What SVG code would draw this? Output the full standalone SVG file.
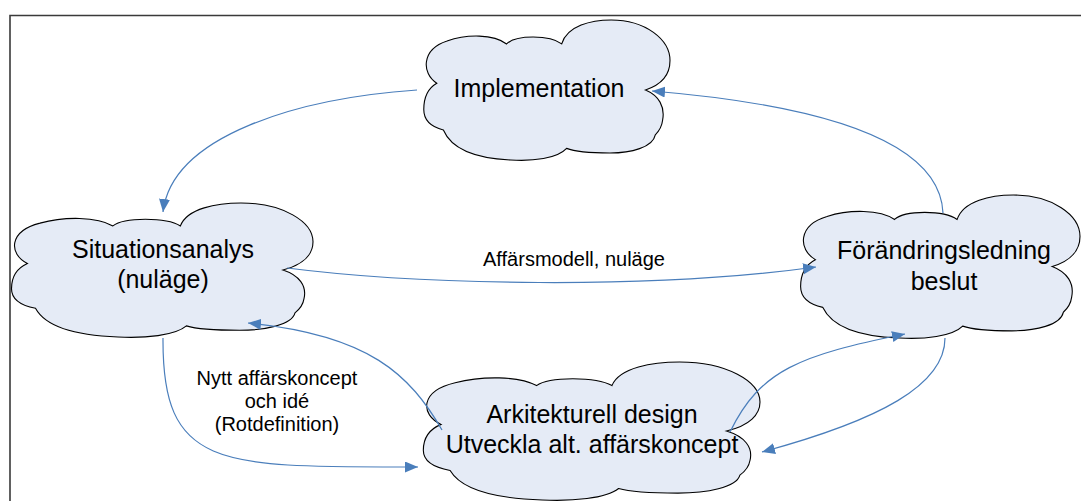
<svg xmlns="http://www.w3.org/2000/svg" width="1081" height="501" viewBox="0 0 1081 501">
<style>
.cloud{fill:#E5EBF6;stroke:#000;stroke-width:1.1}
.big{font-family:"Liberation Sans",Arial,sans-serif;font-size:25px;fill:#000;text-anchor:middle}
.lbl{font-family:"Liberation Sans",Arial,sans-serif;font-size:20px;fill:#000;text-anchor:middle}
.con{fill:none;stroke:#4A7EBB;stroke-width:1.2}
</style>
<defs>
<path id="cloudShape" vector-effect="non-scaling-stroke" d="M4.8,45.2 C -1.5,38 -1.5,21 9,15 C 17,10 28,10 33.3,17.1 C 37,10.5 51,10.5 55.8,17.1 C 58,4 68,0 76,0 C 90,0 100,14 100,29 C 100,38 97,46 90,50 C 95.5,54 98,62 97,71.4 C 96.7,76 95.7,79 94,82 C 93,91 84,95 75.5,95 C 68,95 61,94 57.8,91.7 C 54,99 44,101 35,100 C 22,99 11,93 7.5,78.6 C 1.5,76 -0.5,70 -0.5,64 C -0.5,56 1,49 4.8,45.2 Z"/>
<marker id="arr" markerUnits="userSpaceOnUse" markerWidth="14" markerHeight="12" refX="13" refY="5.5" orient="auto">
<path d="M0,0 L13,5.5 L0,11 Z" fill="#4A7EBB"/>
</marker>
</defs>
<path d="M10,501 V15.5 H1081" fill="none" stroke="#3a3a3a" stroke-width="1.6"/>
<g id="implementation">
<use href="#cloudShape" class="cloud" transform="translate(425,20) scale(2.45,1.40)"/>
<text class="big" x="539" y="97">Implementation</text>
</g>
<g id="situationsanalys">
<use href="#cloudShape" class="cloud" transform="translate(13,203) scale(3.00,1.34)"/>
<text class="big" x="163" y="258">Situationsanalys</text>
<text class="big" x="163" y="288">(nuläge)</text>
</g>
<g id="forandringsledning">
<use href="#cloudShape" class="cloud" transform="translate(802,195) scale(2.78,1.43)"/>
<text class="big" x="944" y="259">Förändringsledning</text>
<text class="big" x="944" y="290">beslut</text>
</g>
<g id="arkitekturell">
<use href="#cloudShape" class="cloud" transform="translate(425,362) scale(3.35,1.38)"/>
<text class="big" x="592" y="423">Arkitekturell design</text>
<text class="big" x="592" y="453">Utveckla alt. affärskoncept</text>
</g>
<g id="connectors">
<path class="con" marker-end="url(#arr)" d="M417,90 C 300,98 172,135 163,212"/>
<path class="con" marker-end="url(#arr)" d="M943,213 C 940,140 820,105 652,91"/>
<path class="con" marker-end="url(#arr)" d="M287,268 C 420,285 650,290 816,267"/>
<path class="con" marker-end="url(#arr)" d="M163,338 C 162,470 220,467 418,467"/>
<path class="con" marker-end="url(#arr)" d="M442,430 C 410,375 370,335 248,323"/>
<path class="con" marker-end="url(#arr)" d="M730,432 C 760,370 800,355 905,334"/>
<path class="con" marker-end="url(#arr)" d="M945,338 C 945,385 880,420 762,452"/>
<text class="lbl" x="574" y="266">Affärsmodell, nuläge</text>
<text class="lbl" x="277" y="385">Nytt affärskoncept</text>
<text class="lbl" x="277" y="408">och idé</text>
<text class="lbl" x="277" y="431">(Rotdefinition)</text>
</g>
</svg>
